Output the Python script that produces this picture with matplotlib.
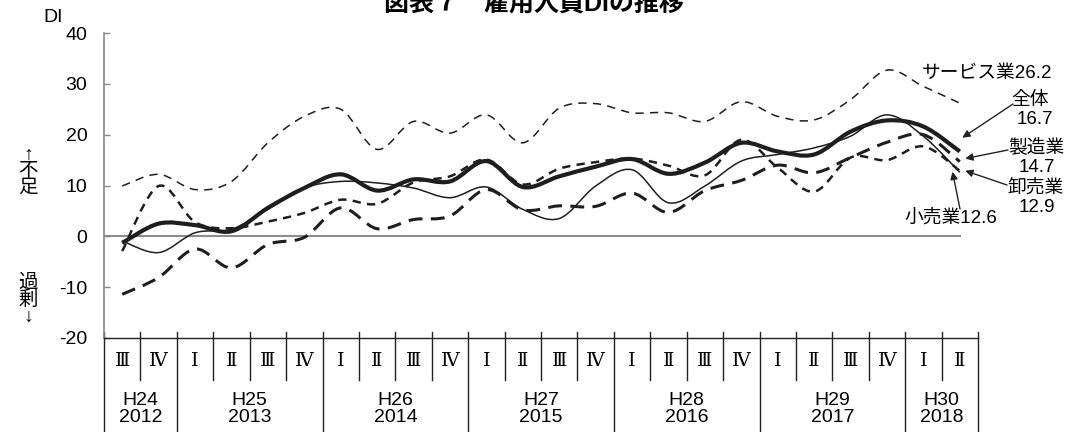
import matplotlib
matplotlib.use("Agg")
import matplotlib.pyplot as plt
import numpy as np
from matplotlib.path import Path
from matplotlib.patches import PathPatch
from matplotlib.transforms import blended_transform_factory

plt.rcParams['font.family'] = ['Liberation Sans', 'Noto Sans CJK JP']
plt.rcParams['lines.scale_dashes'] = False
plt.rcParams['axes.unicode_minus'] = False

# 四半期ラベル（H24 Ⅲ 〜 H30 Ⅱ）
quarters = ['Ⅲ', 'Ⅳ'] + ['Ⅰ', 'Ⅱ', 'Ⅲ', 'Ⅳ'] * 5 + ['Ⅰ', 'Ⅱ']
year_labels = ['H24\n2012', 'H25\n2013', 'H26\n2014', 'H27\n2015',
               'H28\n2016', 'H29\n2017', 'H30\n2018']
year_counts = [2, 4, 4, 4, 4, 4, 2]

# 雇用人員DI（読み取り値）
zentai = [-1.3, 2.5, 2.2, 1.0, 5.6, 9.5, 12.2, 9.0, 11.2, 10.8, 14.8, 9.7,
          11.8, 13.7, 15.2, 12.3, 14.5, 18.4, 16.7, 16.1, 20.6, 22.8, 21.6, 16.7]
seizo = [-11.4, -8.1, -2.5, -6.2, -1.6, -0.2, 5.6, 1.5, 3.3, 4.0, 9.2, 5.2,
         6.0, 5.9, 8.5, 4.7, 9.0, 11.0, 14.0, 12.5, 15.5, 18.5, 20.0, 14.7]
oroshi = [-2.9, 9.9, 2.8, 1.6, 2.9, 4.6, 7.2, 6.4, 10.6, 11.8, 15.1, 10.2,
          13.3, 14.6, 15.3, 13.9, 12.0, 19.0, 13.5, 8.8, 15.5, 15.0, 17.7, 12.9]
kouri = [-0.9, -3.2, 0.7, 1.4, 5.3, 9.5, 10.8, 10.5, 9.5, 7.6, 9.7, 5.3,
         3.5, 9.9, 13.1, 6.6, 9.9, 14.8, 16.1, 17.4, 19.7, 23.9, 19.7, 12.6]
service = [9.9, 12.2, 9.2, 10.8, 18.4, 23.6, 25.0, 17.1, 22.6, 20.3, 23.9, 18.4,
           25.2, 26.1, 24.3, 24.3, 22.6, 26.5, 23.6, 22.9, 26.9, 32.7, 29.5, 26.2]


def smooth_path(values):
    # Excel風の平滑線（データ点を通るベジェ曲線）
    p = np.column_stack([np.arange(len(values), dtype=float), np.asarray(values, float)])
    n = len(p)
    verts = [p[0]]
    codes = [Path.MOVETO]
    for i in range(n - 1):
        p0 = p[i - 1] if i > 0 else p[i]
        p3 = p[i + 2] if i + 2 < n else p[i + 1]
        verts += [p[i] + (p[i + 1] - p0) / 6, p[i + 1] - (p3 - p[i]) / 6, p[i + 1]]
        codes += [Path.CURVE4] * 3
    return Path(verts, codes)


fig = plt.figure(figsize=(10.76, 4.32), dpi=100)
ax = fig.add_axes([104 / 1076, 1 - 338 / 432, 874 / 1076, 305 / 432])

n = len(quarters)
ax.set_xlim(-0.5, n - 0.5)
ax.set_ylim(-20, 40)
ax.set_yticks(range(-20, 41, 10))
ax.set_xticks([])
ax.tick_params(axis='y', direction='in', length=4, width=1, color='#888888',
               labelsize=14, pad=12)
for s in ['top', 'right']:
    ax.spines[s].set_visible(False)
ax.spines['left'].set_color('#888888')
ax.spines['left'].set_linewidth(1.2)
ax.spines['bottom'].set_color('#222222')
ax.spines['bottom'].set_linewidth(1.0)

# ゼロ線
ax.plot([-0.5, n - 1], [0, 0], color='#8c8c8c', lw=1.5, zorder=1)

line_color = '#1e1e1e'
styles = [
    (service, 1.1, (0, (6, 4.5))),
    (seizo, 2.2, (0, (10, 6))),
    (oroshi, 1.8, (0, (6, 4.5))),
    (kouri, 1.1, 'solid'),
    (zentai, 3.0, 'solid'),
]
for vals, lw, ls in styles:
    ax.add_patch(PathPatch(smooth_path(vals), fill=False, edgecolor=line_color,
                           lw=lw, linestyle=ls, capstyle='butt', zorder=3))

# 下の区分表
trans = blended_transform_factory(ax.transData, ax.transAxes)
year_edges = np.cumsum([0] + year_counts) - 0.5
for k in range(n + 1):
    xb = k - 0.5
    bottom = -0.308 if xb in year_edges else -0.138
    ax.plot([xb, xb], [0.02, bottom], color='#222222', lw=1.0,
            transform=trans, clip_on=False)
for k, q in enumerate(quarters):
    ax.text(k, -0.075, q, transform=trans, ha='center', va='center',
            fontsize=14, family=['DejaVu Serif', 'Liberation Serif', 'Noto Sans CJK JP'])
for k, lab in enumerate(year_labels):
    xc = (year_edges[k] + year_edges[k + 1]) / 2
    ax.text(xc, -0.233, lab, transform=trans, ha='center', va='center',
            fontsize=14, linespacing=1.05)

# タイトル・軸ラベル
fig.text(534 / 1076, 1 - 12 / 432, '図表７　雇用人員DIの推移', ha='center', va='baseline',
         fontsize=18, fontweight='bold')
fig.text(53 / 1076, 1 - 18 / 432, 'DI', ha='center', va='center', fontsize=14)
fig.text(28 / 1076, 1 - 172 / 432, '↑\n不\n足', ha='center', va='center',
         fontsize=14, linespacing=0.95)
fig.text(28 / 1076, 1 - 300 / 432, '過\n剰\n↓', ha='center', va='center',
         fontsize=14, linespacing=0.95)

# 系列ラベル
lab_fs = 13.5
fig.text(987 / 1076, 1 - 73 / 432, 'サービス業26.2', ha='center', va='center', fontsize=lab_fs)
fig.text(1030 / 1076, 1 - 100 / 432, '全体', ha='center', va='center', fontsize=lab_fs)
fig.text(1035 / 1076, 1 - 119 / 432, '16.7', ha='center', va='center', fontsize=lab_fs)
fig.text(1036 / 1076, 1 - 147 / 432, '製造業', ha='center', va='center', fontsize=lab_fs)
fig.text(1037 / 1076, 1 - 168 / 432, '14.7', ha='center', va='center', fontsize=lab_fs)
fig.text(1036 / 1076, 1 - 188 / 432, '卸売業', ha='center', va='center', fontsize=lab_fs)
fig.text(1037 / 1076, 1 - 207 / 432, '12.9', ha='center', va='center', fontsize=lab_fs)
fig.text(951 / 1076, 1 - 218 / 432, '小売業12.6', ha='center', va='center', fontsize=lab_fs)

arrow = dict(arrowstyle='-|>', color='#222222', lw=1.0, mutation_scale=11,
             shrinkA=0, shrinkB=0)
last = n - 1
ax.annotate('', xy=(last + 0.07, zentai[-1] + 2.7), xytext=(1013, 432 - 104),
            textcoords='figure pixels', arrowprops=arrow)
ax.annotate('', xy=(last + 0.15, seizo[-1] + 0.6), xytext=(1008, 432 - 150),
            textcoords='figure pixels', arrowprops=arrow)
ax.annotate('', xy=(last + 0.15, oroshi[-1]), xytext=(1007, 432 - 185),
            textcoords='figure pixels', arrowprops=arrow)
ax.annotate('', xy=(last - 0.2, kouri[-1] + 0.1), xytext=(960, 432 - 209),
            textcoords='figure pixels', arrowprops=arrow)

fig.savefig('out.png', dpi=100)
